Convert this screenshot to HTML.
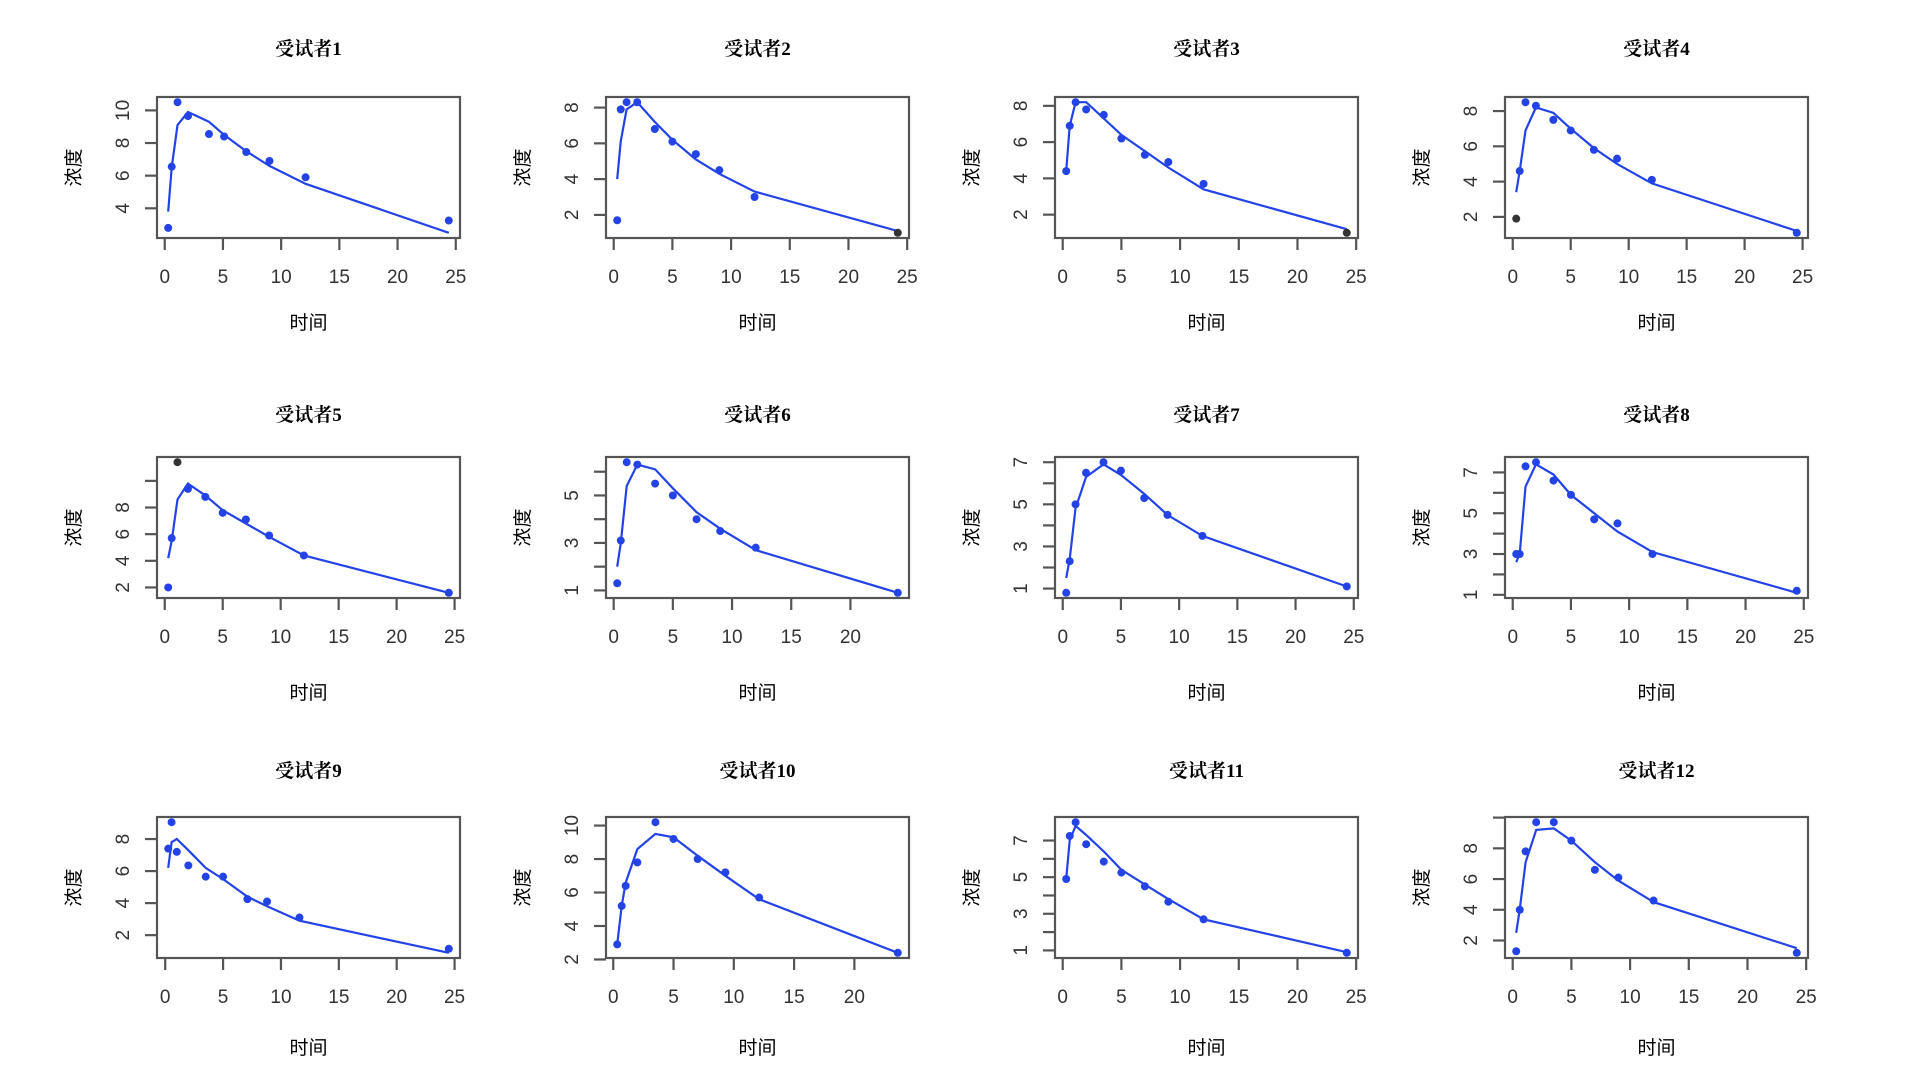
<!DOCTYPE html>
<html><head><meta charset="utf-8"><style>
html,body{margin:0;padding:0;background:#fff;}
svg{display:block;}
</style></head><body>
<svg id="chart" width="1920" height="1080" viewBox="0 0 1920 1080" xmlns="http://www.w3.org/2000/svg"></svg>
<script>
// ---- data ----
const subjects = ["受试者1","受试者2","受试者3","受试者4","受试者5","受试者6","受试者7","受试者8","受试者9","受试者10","受试者11","受试者12"];
const times = [
 [0.3,0.6,1.1,2,3.8,5.1,7,9,12.1,24.4],
 [0.3,0.6,1.1,2,3.5,5,7,9,12,24.2],
 [0.3,0.6,1.1,2,3.5,5,7,9,12,24.2],
 [0.3,0.6,1.1,2,3.5,5,7,9,12,24.5],
 [0.3,0.6,1.1,2,3.5,5,7,9,12,24.5],
 [0.3,0.6,1.1,2,3.5,5,7,9,12,24],
 [0.3,0.6,1.1,2,3.5,5,7,9,12,24.4],
 [0.3,0.6,1.1,2,3.5,5,7,9,12,24.4],
 [0.26,0.55,1.0,2,3.5,5,7.1,8.8,11.6,24.5],
 [0.33,0.7,1.03,2,3.5,5,7,9.3,12.1,23.6],
 [0.3,0.6,1.1,2,3.5,5,7,9,12,24.2],
 [0.3,0.6,1.1,2,3.5,5,7,9,12,24.2]
];
const observed = [
 [2.8,6.55,10.5,9.65,8.55,8.4,7.45,6.9,5.9,3.25],
 [1.7,7.9,8.3,8.3,6.8,6.1,5.4,4.5,3.0,1.0],
 [4.4,6.9,8.2,7.8,7.5,6.2,5.3,4.9,3.7,1.0],
 [1.9,4.6,8.5,8.3,7.5,6.9,5.8,5.3,4.1,1.1],
 [2.0,5.7,11.4,9.4,8.8,7.6,7.1,5.9,4.4,1.6],
 [1.3,3.1,6.4,6.3,5.5,5.0,4.0,3.5,2.8,0.9],
 [0.8,2.3,5.0,6.5,7.0,6.6,5.3,4.5,3.5,1.1],
 [3.0,3.0,7.3,7.5,6.6,5.9,4.7,4.5,3.0,1.2],
 [7.4,9.05,7.2,6.35,5.65,5.65,4.25,4.1,3.1,1.15],
 [2.9,5.2,6.4,7.8,10.2,9.2,8.0,7.2,5.7,2.4],
 [4.9,7.25,8.0,6.8,5.85,5.25,4.5,3.66,2.7,0.87],
 [1.3,4.0,7.8,9.7,9.7,8.5,6.6,6.1,4.6,1.2]
];
const fitted = [
 [3.8,6.5,9.1,9.9,9.3,8.5,7.5,6.6,5.5,2.5],
 [4.0,6.1,7.9,8.3,7.2,6.2,5.1,4.3,3.3,1.1],
 [4.4,6.9,8.2,8.2,7.3,6.4,5.5,4.6,3.4,1.2],
 [3.4,4.6,6.9,8.2,7.9,7.0,5.9,5.0,3.9,1.2],
 [4.2,5.5,8.6,9.8,8.9,7.8,6.8,5.8,4.4,1.6],
 [2.0,3.0,5.4,6.3,6.1,5.3,4.3,3.6,2.7,0.9],
 [1.5,2.4,4.8,6.3,6.9,6.4,5.5,4.5,3.5,1.1],
 [2.6,3.0,6.3,7.4,6.9,5.9,5.0,4.1,3.1,1.1],
 [6.2,7.8,8.0,7.3,6.2,5.5,4.4,3.8,2.9,0.9],
 [2.9,5.2,6.6,8.6,9.5,9.3,8.2,7.0,5.6,2.4],
 [4.9,7.0,7.8,7.3,6.4,5.4,4.6,3.8,2.7,0.9],
 [2.5,4.0,7.1,9.2,9.3,8.5,7.1,5.9,4.5,1.5]
];
const darkPoint = [-1,9,9,0,2,-1,-1,-1,-1,-1,-1,-1];
const yTicks = [
 [4,6,8,10],[2,4,6,8],[2,4,6,8],[2,4,6,8],[2,4,6,8,10],[1,2,3,4,5,6],
 [1,2,3,4,5,6,7],[1,2,3,4,5,6,7],[2,4,6,8],[2,4,6,8,10],[1,2,3,4,5,6,7],[2,4,6,8,10]
];
const yLabels = [
 [4,6,8,10],[2,4,6,8],[2,4,6,8],[2,4,6,8],[2,4,6,8],[1,3,5],
 [1,3,5,7],[1,3,5,7],[2,4,6,8],[2,4,6,8,10],[1,3,5,7],[2,4,6,8]
];
const xTicksA = [0,5,10,15,20,25];
const xTicksB = [0,5,10,15,20];
const xTickSet = [0,0,0,0,0,1,0,0,0,1,0,0];

// ---- layout ----
const NS="http://www.w3.org/2000/svg";
const svg=document.getElementById('chart');
const colLeft=[157,606,1055,1505], rowTop=[97,457,817], BW=303, BH=141;
const titleOff=[42,36,40], xlabOff=[91,101,96];
const BLUE="#2343e6";
function mk(tag,attrs,parent){const e=document.createElementNS(NS,tag);for(const k in attrs)e.setAttribute(k,attrs[k]);(parent||svg).appendChild(e);return e;}

for(let p=0;p<12;p++){
  const r=Math.floor(p/4);
  const L=colLeft[p%4], T=rowTop[r];
  const g=mk('g',{});
  
  
  const t=times[p], o=observed[p], f=fitted[p];
  const xmin0=Math.min(...t), xmax0=Math.max(...t);
  const xpad=(xmax0-xmin0)*0.04, xmin=xmin0-xpad, xmax=xmax0+xpad;
  const allY=o.concat(f); const ymin0=Math.min(...allY), ymax0=Math.max(...allY);
  const ypad=(ymax0-ymin0)*0.04, ymin=ymin0-ypad, ymax=ymax0+ypad;
  const X=v=>L+(v-xmin)/(xmax-xmin)*BW;
  const Y=v=>T+BH-(v-ymin)/(ymax-ymin)*BH;
  const cx=L+BW/2;

  const title=mk('text',{x:cx,y:T-titleOff[r],'text-anchor':'middle','font-family':'"Liberation Serif","Noto Serif CJK SC",serif','font-size':19,'font-weight':'bold',fill:'#000'},g);
  title.textContent=subjects[p];
  
  

  const line=mk('polyline',{points:t.map((v,i)=>X(v).toFixed(1)+','+Y(f[i]).toFixed(1)).join(' '),fill:'none',stroke:BLUE,'stroke-width':2.2},g);
  
  
  for(let i=0;i<t.length;i++){
    const c=mk('circle',{cx:X(t[i]),cy:Y(o[i]),r:4,fill:(i===darkPoint[p]?'#333':BLUE)},g);
    
    
  }
  const box=mk('rect',{x:L,y:T,width:BW,height:BH,fill:'none',stroke:'#555','stroke-width':2.2},g);
  
  

  const xt=xTickSet[p]?xTicksB:xTicksA;
  xt.forEach(v=>{
    mk('line',{x1:X(v),x2:X(v),y1:T+BH,y2:T+BH+12,stroke:'#555','stroke-width':2.2},g);
    const tl=mk('text',{x:X(v),y:T+BH+45,'text-anchor':'middle','font-family':'"Liberation Sans",sans-serif','font-size':19,fill:'#333'},g);
    tl.textContent=v;
    
    
  });
  yTicks[p].forEach(v=>{
    mk('line',{x1:L-12,x2:L,y1:Y(v),y2:Y(v),stroke:'#555','stroke-width':2.2},g);
  });
  yLabels[p].forEach(v=>{
    const yl=mk('text',{x:0,y:0,'text-anchor':'middle','font-family':'"Liberation Sans",sans-serif','font-size':19,fill:'#333',transform:'translate('+(L-28)+','+Y(v)+') rotate(-90)'},g);
    yl.textContent=v;
    
    
  });
  const xl=mk('text',{x:cx,y:T+BH+xlabOff[r],'text-anchor':'middle','font-family':'"Liberation Sans","Noto Sans CJK SC",sans-serif','font-size':19,fill:'#000'},g);
  xl.textContent='时间';
  
  
  const yt=mk('text',{x:0,y:0,'text-anchor':'middle','font-family':'"Liberation Sans","Noto Sans CJK SC",sans-serif','font-size':19,fill:'#000',transform:'translate('+(L-77)+','+(T+BH/2)+') rotate(-90)'},g);
  yt.textContent='浓度';
  
  
}
</script>
</body></html>
